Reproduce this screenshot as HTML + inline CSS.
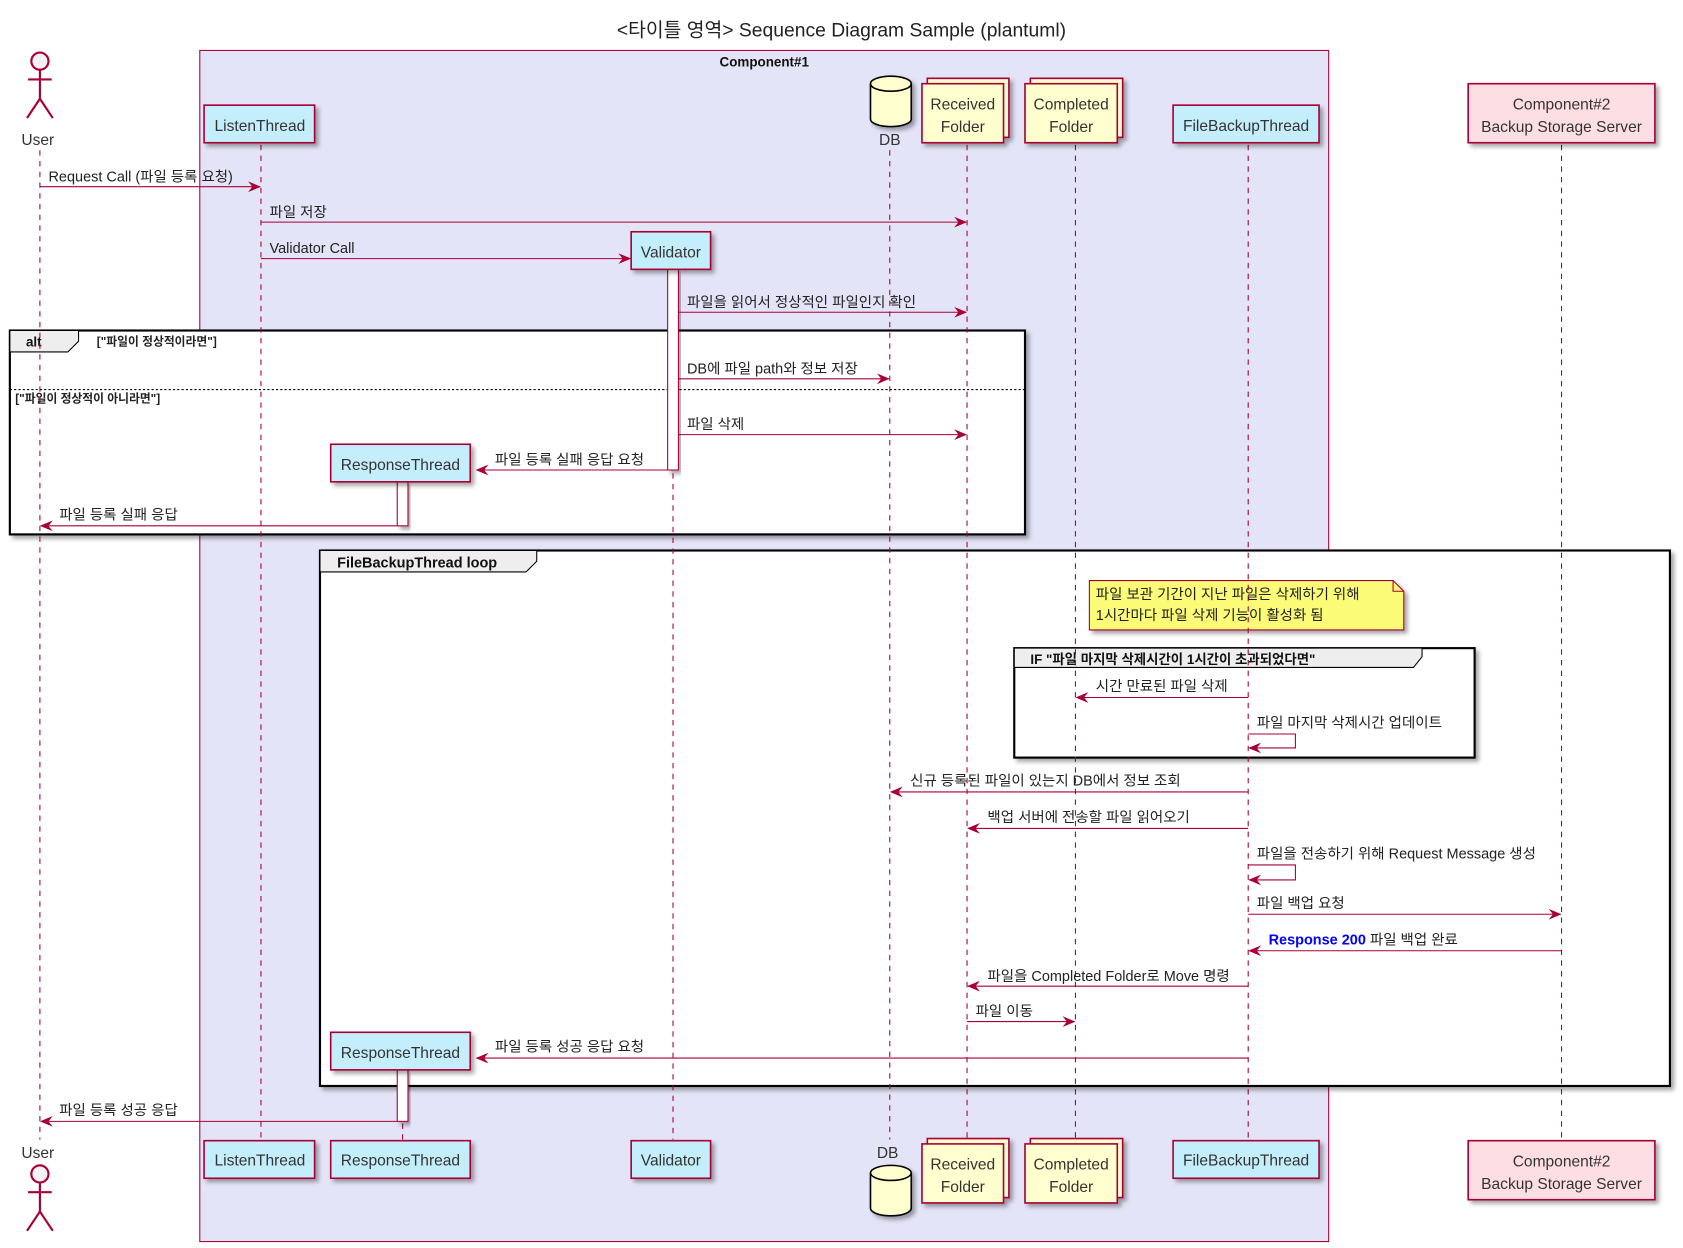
<!DOCTYPE html>
<html><head><meta charset="utf-8"><style>
html,body{margin:0;padding:0;background:#fff;}
svg{display:block;}
text{font-family:"Liberation Sans","Noto Sans CJK KR",sans-serif;fill:#222;}
.m{font-size:13.5px;}
.p{font-size:14.5px;fill:#333;}
.b{font-weight:bold;font-size:12.5px;fill:#111;}
</style></head><body>
<svg width="1683" height="1248" viewBox="0 0 1568 1163" xmlns="http://www.w3.org/2000/svg">
<defs>
<marker id="ah" viewBox="0 0 12 10" refX="11" refY="5" markerWidth="12" markerHeight="10" markerUnits="userSpaceOnUse" orient="auto">
<path d="M0,0 L12,5 L0,10 L4,5 Z" fill="#A80036"/></marker>
<filter id="sh" x="-10%" y="-10%" width="130%" height="140%"><feDropShadow dx="3" dy="3" stdDeviation="2" flood-color="#000" flood-opacity="0.35"/></filter>
</defs>
<text x="784" y="34" text-anchor="middle" style="font-size:18px">&lt;타이틀 영역&gt; Sequence Diagram Sample (plantuml)</text>
<rect x="186" y="47" width="1052" height="1110" fill="#E4E4F8" stroke="#A80036" stroke-width="1"/>
<text x="712" y="62" text-anchor="middle" class="b">Component#1</text>
<rect x="9" y="308" width="946" height="190" fill="#fff" stroke="#000" stroke-width="2" filter="url(#sh)"/>
<path d="M9,308 L73,308 L73,318 L63,328 L9,328 Z" fill="#eee" stroke="#000" stroke-width="1"/>
<text x="24" y="323" class="b">alt</text>
<text x="90" y="322" style="font-size:11px;font-weight:bold">["파일이 정상적이라면"]</text>
<line x1="9" y1="363" x2="955" y2="363" stroke="#000" stroke-width="1" stroke-dasharray="2,2"/>
<text x="14" y="375" style="font-size:11px;font-weight:bold">["파일이 정상적이 아니라면"]</text>
<rect x="298" y="513" width="1258" height="499" fill="#fff" stroke="#000" stroke-width="2" filter="url(#sh)"/>
<path d="M298,513 L500,513 L500,523 L490,533 L298,533 Z" fill="#eee" stroke="#000" stroke-width="1"/>
<text x="314" y="529" class="b" style="font-size:13.5px">FileBackupThread loop</text>
<path d="M1015,541 L1298,541 L1308,551 L1308,587 L1015,587 Z" fill="#FBFB77" stroke="#A80036" stroke-width="1" filter="url(#sh)"/>
<path d="M1298,541 L1298,551 L1308,551" fill="none" stroke="#A80036"/>
<text x="1021" y="558" class="m">파일 보관 기간이 지난 파일은 삭제하기 위해</text>
<text x="1021" y="578" class="m">1시간마다 파일 삭제 기능이 활성화 됨</text>
<rect x="945" y="604" width="429" height="102" fill="#fff" stroke="#000" stroke-width="2" filter="url(#sh)"/>
<path d="M945,604 L1325,604 L1325,612 L1317,622 L945,622 Z" fill="#eee" stroke="#000" stroke-width="1"/>
<text x="960" y="619" class="b" style="font-size:12.5px">IF "파일 마지막 삭제시간이 1시간이 초과되었다면"</text>
<g stroke="#A80036" stroke-width="1" stroke-dasharray="5,5">
<line x1="37" y1="140" x2="37" y2="1062"/>
<line x1="243" y1="135" x2="243" y2="1062"/>
<line x1="375" y1="997" x2="375" y2="1062"/>
<line x1="627" y1="251" x2="627" y2="1062"/>
<line x1="829" y1="140" x2="829" y2="1062"/>
<line x1="901" y1="135" x2="901" y2="1062"/>
<line x1="1002" y1="135" x2="1002" y2="1062"/>
<line x1="1163" y1="135" x2="1163" y2="1062"/>
<line x1="1455" y1="135" x2="1455" y2="1062"/>
</g>
<rect x="622" y="251" width="10" height="187" fill="#fff" stroke="#A80036" filter="url(#sh)"/>
<rect x="370" y="449" width="10" height="41" fill="#fff" stroke="#A80036" filter="url(#sh)"/>
<rect x="370" y="997" width="10" height="48" fill="#fff" stroke="#A80036" filter="url(#sh)"/>
<g stroke="#A80036" stroke-width="1" fill="none" marker-end="url(#ah)">
<line x1="37" y1="174" x2="242" y2="174"/>
<line x1="243" y1="207" x2="900" y2="207"/>
<line x1="243" y1="241" x2="587" y2="241"/>
<line x1="632" y1="291" x2="900" y2="291"/>
<line x1="632" y1="353" x2="828" y2="353"/>
<line x1="632" y1="405" x2="900" y2="405"/>
<line x1="622" y1="438" x2="444" y2="438"/>
<line x1="370" y1="490" x2="38" y2="490"/>
<line x1="1163" y1="650" x2="1003" y2="650"/>
<path d="M1163,684 L1207,684 L1207,697 L1164,697"/>
<line x1="1163" y1="738" x2="830" y2="738"/>
<line x1="1163" y1="772" x2="902" y2="772"/>
<path d="M1163,806 L1207,806 L1207,820 L1164,820"/>
<line x1="1163" y1="852" x2="1454" y2="852"/>
<line x1="1455" y1="886" x2="1164" y2="886"/>
<line x1="1163" y1="919" x2="902" y2="919"/>
<line x1="901" y1="952" x2="1001" y2="952"/>
<line x1="1163" y1="986" x2="444" y2="986"/>
<line x1="370" y1="1045" x2="38" y2="1045"/>
</g>
<g class="m">
<text x="45" y="169" class="m">Request Call (파일 등록 요청)</text>
<text x="251" y="202" class="m">파일 저장</text>
<text x="251" y="236" class="m">Validator Call</text>
<text x="640" y="286" class="m">파일을 읽어서 정상적인 파일인지 확인</text>
<text x="640" y="348" class="m">DB에 파일 path와 정보 저장</text>
<text x="640" y="400" class="m">파일 삭제</text>
<text x="461" y="433" class="m">파일 등록 실패 응답 요청</text>
<text x="55" y="484" class="m">파일 등록 실패 응답</text>
<text x="1021" y="644" class="m">시간 만료된 파일 삭제</text>
<text x="1171" y="678" class="m">파일 마지막 삭제시간 업데이트</text>
<text x="848" y="732" class="m">신규 등록된 파일이 있는지 DB에서 정보 조회</text>
<text x="920" y="766" class="m">백업 서버에 전송할 파일 읽어오기</text>
<text x="1171" y="800" class="m">파일을 전송하기 위해 Request Message 생성</text>
<text x="1171" y="846" class="m">파일 백업 요청</text>
<text x="1182" y="880" class="m"><tspan style="fill:#0000FF;font-weight:bold">Response 200</tspan>  파일 백업 완료</text>
<text x="920" y="914" class="m">파일을 Completed Folder로 Move 명령</text>
<text x="909" y="947" class="m">파일 이동</text>
<text x="461" y="980" class="m">파일 등록 성공 응답 요청</text>
<text x="55" y="1039" class="m">파일 등록 성공 응답</text>
</g>
<g stroke="#A80036" stroke-width="1.5" filter="url(#sh)">
<rect x="190" y="98" width="103" height="35" fill="#C4EEFC"/>
<rect x="588" y="216" width="74" height="35" fill="#C4EEFC"/>
<rect x="1093" y="98" width="136" height="35" fill="#C4EEFC"/>
<rect x="1368" y="78" width="174" height="55" fill="#FDDFE3"/>
<rect x="308" y="414" width="130" height="35" fill="#C4EEFC"/>
<rect x="308" y="962" width="130" height="35" fill="#C4EEFC"/>
<rect x="190" y="1063" width="103" height="35" fill="#C4EEFC"/>
<rect x="308" y="1063" width="130" height="35" fill="#C4EEFC"/>
<rect x="588" y="1063" width="74" height="35" fill="#C4EEFC"/>
<rect x="1093" y="1063" width="136" height="35" fill="#C4EEFC"/>
<rect x="1368" y="1063" width="174" height="55" fill="#FDDFE3"/>
<rect x="864" y="73" width="76" height="55" fill="#FEFECE"/>
<rect x="859" y="78" width="76" height="55" fill="#FEFECE"/>
<rect x="960" y="73" width="86" height="55" fill="#FEFECE"/>
<rect x="955" y="78" width="86" height="55" fill="#FEFECE"/>
<rect x="864" y="1061" width="76" height="55" fill="#FEFECE"/>
<rect x="859" y="1066" width="76" height="55" fill="#FEFECE"/>
<rect x="960" y="1061" width="86" height="55" fill="#FEFECE"/>
<rect x="955" y="1066" width="86" height="55" fill="#FEFECE"/>
</g>
<g stroke="#000" stroke-width="1.5" fill="#FEFECE" filter="url(#sh)">
<path d="M811,78 L811,111 A19,7 0 0 0 849,111 L849,78 A19,7 0 0 0 811,78 Z"/>
<path d="M811,1093 L811,1126 A19,7 0 0 0 849,1126 L849,1093 A19,7 0 0 0 811,1093 Z"/>
</g>
<path d="M811,78 A19,7 0 0 0 849,78" fill="none" stroke="#000" stroke-width="1.5"/>
<path d="M811,1093 A19,7 0 0 0 849,1093" fill="none" stroke="#000" stroke-width="1.5"/>
<g stroke="#A80036" stroke-width="2" fill="none">
<circle cx="37" cy="57" r="8" fill="#F3F3F3"/>
<line x1="37" y1="65" x2="37" y2="92"/><line x1="26" y1="74" x2="48" y2="74"/>
<path d="M25,110 L37,92 L49,110"/>
<circle cx="37" cy="1094" r="8" fill="#F3F3F3"/>
<line x1="37" y1="1102" x2="37" y2="1129"/><line x1="26" y1="1111" x2="48" y2="1111"/>
<path d="M25,1147 L37,1129 L49,1147"/>
</g>
<g class="p" text-anchor="middle">
<text x="35" y="135" class="p" text-anchor="middle">User</text>
<text x="35" y="1079" class="p" text-anchor="middle">User</text>
<text x="829" y="135" class="p" text-anchor="middle">DB</text>
<text x="827" y="1079" class="p" text-anchor="middle">DB</text>
<text x="242" y="122" class="p" text-anchor="middle">ListenThread</text>
<text x="625" y="240" class="p" text-anchor="middle">Validator</text>
<text x="1161" y="122" class="p" text-anchor="middle">FileBackupThread</text>
<text x="1455" y="102" class="p" text-anchor="middle">Component#2</text>
<text x="1455" y="123" class="p" text-anchor="middle">Backup Storage Server</text>
<text x="897" y="102" class="p" text-anchor="middle">Received</text>
<text x="897" y="123" class="p" text-anchor="middle">Folder</text>
<text x="998" y="102" class="p" text-anchor="middle">Completed</text>
<text x="998" y="123" class="p" text-anchor="middle">Folder</text>
<text x="373" y="438" class="p" text-anchor="middle">ResponseThread</text>
<text x="373" y="986" class="p" text-anchor="middle">ResponseThread</text>
<text x="242" y="1086" class="p" text-anchor="middle">ListenThread</text>
<text x="373" y="1086" class="p" text-anchor="middle">ResponseThread</text>
<text x="625" y="1086" class="p" text-anchor="middle">Validator</text>
<text x="1161" y="1086" class="p" text-anchor="middle">FileBackupThread</text>
<text x="1455" y="1087" class="p" text-anchor="middle">Component#2</text>
<text x="1455" y="1108" class="p" text-anchor="middle">Backup Storage Server</text>
<text x="897" y="1090" class="p" text-anchor="middle">Received</text>
<text x="897" y="1111" class="p" text-anchor="middle">Folder</text>
<text x="998" y="1090" class="p" text-anchor="middle">Completed</text>
<text x="998" y="1111" class="p" text-anchor="middle">Folder</text>
</g>
</svg>
</body></html>
